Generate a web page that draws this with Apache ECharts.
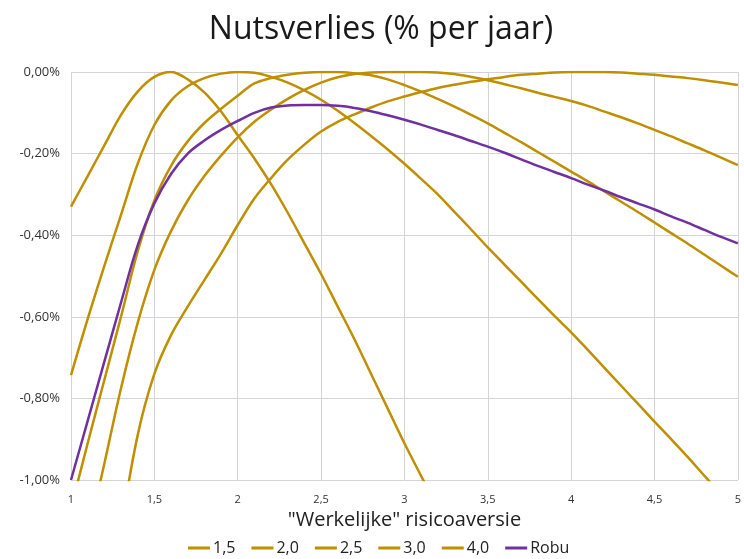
<!DOCTYPE html>
<html>
<head>
<meta charset="utf-8">
<script src="https://cdn.jsdelivr.net/npm/echarts@6/dist/echarts.min.js"></script>
<style>html,body{margin:0;padding:0;background:#fff}#c{width:744px;height:559px}</style>
</head>
<body>
<div id="c"></div>
<script>
// x values: "Werkelijke" risicoaversie
var xs = [1.0,1.1,1.2,1.3,1.4,1.5,1.6,1.7,1.8,1.9,2.0,2.1,2.2,2.3,2.4,2.5,2.6,2.7,2.8,2.9,3.0,3.1,3.2,3.3,3.4,3.5,3.6,3.7,3.8,3.9,4.0,4.1,4.2,4.3,4.4,4.5,4.6,4.7,4.8,4.9,5.0];
var seriesNames = ['1,5','2,0','2,5','3,0','4,0','Robu'];
// Nutsverlies (% per jaar)
var s15 = [-0.33,-0.255,-0.18,-0.105,-0.048,-0.012,0,-0.018,-0.05,-0.097,-0.155,-0.212,-0.275,-0.345,-0.42,-0.495,-0.575,-0.655,-0.74,-0.825,-0.91,-0.99,-1.07,null,null,null,null,null,null,null,null,null,null,null,null,null,null,null,null,null,null];
var s20 = [-0.743,-0.605,-0.475,-0.35,-0.225,-0.13,-0.07,-0.035,-0.015,-0.004,0,-0.002,-0.012,-0.026,-0.045,-0.068,-0.095,-0.125,-0.157,-0.19,-0.225,-0.262,-0.30,-0.343,-0.386,-0.43,-0.472,-0.514,-0.556,-0.598,-0.638,-0.681,-0.725,-0.769,-0.813,-0.857,-0.90,-0.944,-0.99,-1.035,null];
var s25 = [-1.07,-0.91,-0.755,-0.60,-0.44,-0.315,-0.23,-0.17,-0.125,-0.09,-0.058,-0.028,-0.015,-0.007,-0.002,0,0,-0.003,-0.008,-0.018,-0.032,-0.048,-0.066,-0.085,-0.105,-0.126,-0.149,-0.172,-0.196,-0.22,-0.244,-0.268,-0.293,-0.318,-0.343,-0.369,-0.395,-0.421,-0.448,-0.475,-0.502];
var s30 = [null,-1.14,-0.96,-0.775,-0.615,-0.485,-0.39,-0.315,-0.255,-0.205,-0.16,-0.122,-0.092,-0.066,-0.044,-0.026,-0.013,-0.005,-0.001,0,0,0,-0.001,-0.005,-0.012,-0.02,-0.03,-0.04,-0.051,-0.061,-0.071,-0.083,-0.097,-0.111,-0.126,-0.142,-0.158,-0.175,-0.192,-0.21,-0.228];
var s40 = [null,null,null,-1.12,-0.89,-0.74,-0.645,-0.575,-0.51,-0.445,-0.375,-0.31,-0.26,-0.215,-0.178,-0.146,-0.122,-0.104,-0.087,-0.072,-0.06,-0.049,-0.039,-0.031,-0.024,-0.018,-0.012,-0.007,-0.004,-0.001,0,0,0,-0.001,-0.004,-0.007,-0.011,-0.015,-0.02,-0.026,-0.032];
var robu = [-1.0,-0.855,-0.71,-0.565,-0.425,-0.322,-0.25,-0.20,-0.168,-0.142,-0.12,-0.10,-0.087,-0.082,-0.081,-0.081,-0.083,-0.088,-0.096,-0.106,-0.117,-0.129,-0.142,-0.155,-0.169,-0.183,-0.198,-0.214,-0.23,-0.245,-0.26,-0.276,-0.291,-0.307,-0.322,-0.337,-0.354,-0.37,-0.387,-0.404,-0.42];

var GOLD = '#BF8F00', PURPLE = '#7030A0';
var colors = [GOLD,GOLD,GOLD,GOLD,GOLD,PURPLE];
var allVals = [s15,s20,s25,s30,s40,robu];
var FONT = 'Open Sans';

function pairs(vals){
  var out = [];
  for (var i = 0; i < xs.length; i++) if (vals[i] !== null) out.push([xs[i], vals[i]]);
  return out;
}
var series = allVals.map(function(v, k){
  return {
    name: seriesNames[k], type: 'line', data: pairs(v), smooth: 0.35,
    showSymbol: false, symbol: 'none', clip: true,
    lineStyle: {color: colors[k], width: 2.5}, itemStyle: {color: colors[k]},
    z: k === 5 ? 3 : 2
  };
});

var chart = echarts.init(document.getElementById('c'), null, {renderer: 'canvas'});
chart.setOption({
  animation: false,
  backgroundColor: '#fff',
  title: {text: 'Nutsverlies (% per jaar)', left: 376, top: 9, textAlign: 'center',
    textStyle: {fontFamily: FONT, fontSize: 32, fontWeight: 'normal', color: '#1a1a1a'}},
  grid: {left: 71, right: 5, top: 72, bottom: 79, containLabel: false},
  legend: {data: seriesNames, top: 538, left: 186, icon: 'rect', itemWidth: 22, itemHeight: 3,
    itemGap: 16, padding: 2, textStyle: {fontFamily: FONT, fontSize: 16, color: '#222', padding: [0,0,0,-2]}},
  xAxis: {type: 'value', min: 1, max: 5, interval: 0.5,
    name: '"Werkelijke" risicoaversie', nameLocation: 'middle', nameGap: 30,
    nameTextStyle: {fontFamily: FONT, fontSize: 20, color: '#222'},
    axisLine: {show: false}, axisTick: {show: false},
    axisLabel: {fontFamily: FONT, fontSize: 11, color: '#333', margin: 14,
      formatter: function(v){ return String(v).replace('.', ','); }},
    splitLine: {show: true, lineStyle: {color: '#d4d4d4', width: 1}}},
  yAxis: {type: 'value', min: -1, max: 0, interval: 0.2,
    axisLine: {show: false}, axisTick: {show: false},
    axisLabel: {fontFamily: FONT, fontSize: 13, color: '#333', margin: 11,
      formatter: function(v){ return v.toFixed(2).replace('.', ',') + '%'; }},
    splitLine: {show: true, lineStyle: {color: '#d4d4d4', width: 1}}},
  series: series
});
</script>
</body>
</html>
